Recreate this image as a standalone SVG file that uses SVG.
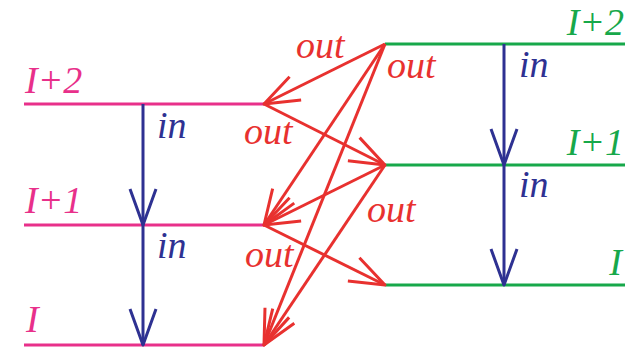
<svg xmlns="http://www.w3.org/2000/svg" width="640" height="349" viewBox="0 0 640 349">
<defs>
<style>
.lvlL{stroke:#e8308a;stroke-width:3.2;fill:none}
.lvlR{stroke:#17a84a;stroke-width:3.2;fill:none}
.blue{stroke:#2e3192;stroke-width:3;fill:none}
.red{stroke:#e8312f;stroke-width:3;fill:none}
.t{font-family:'Liberation Serif','Times New Roman',Tinos,serif;font-style:italic;font-size:38px}
.tL{fill:#e8308a}
.tR{fill:#17a84a}
.tB{fill:#2e3192}
.tO{fill:#e8312f}
</style>
<marker id="ab" markerUnits="userSpaceOnUse" markerWidth="50" markerHeight="40" viewBox="-40 -20 50 40" refX="0" refY="0" orient="auto">
<path d="M-36,-13 L0,0 L-36,13" fill="none" stroke="#2e3192" stroke-width="3" stroke-linejoin="round"/>
</marker>
<marker id="ar" markerUnits="userSpaceOnUse" markerWidth="50" markerHeight="40" viewBox="-40 -20 50 40" refX="0" refY="0" orient="auto">
<path d="M-35,-13 L0,0 L-35,13" fill="none" stroke="#e8312f" stroke-width="3" stroke-linejoin="round"/>
</marker>
</defs>
<g id="left-levels">
<g id="L2"><line class="lvlL" x1="24" y1="104" x2="264" y2="104"/><text class="t tL" x="25" y="93">I+2</text></g>
<g id="L1"><line class="lvlL" x1="24" y1="225" x2="264" y2="225"/><text class="t tL" x="25" y="213">I+1</text></g>
<g id="L0"><line class="lvlL" x1="24" y1="345" x2="264" y2="345"/><text class="t tL" x="26" y="332">I</text></g>
</g>
<g id="right-levels">
<g id="R2"><line class="lvlR" x1="385" y1="44" x2="625" y2="44"/><text class="t tR" x="624" y="35" text-anchor="end">I+2</text></g>
<g id="R1"><line class="lvlR" x1="385" y1="165" x2="625" y2="165"/><text class="t tR" x="624" y="155" text-anchor="end">I+1</text></g>
<g id="R0"><line class="lvlR" x1="385" y1="285" x2="625" y2="285"/><text class="t tR" x="622" y="275" text-anchor="end">I</text></g>
</g>
<g id="connectors">
<line class="blue" x1="143" y1="104" x2="143" y2="225" marker-end="url(#ab)"/>
<line class="blue" x1="143" y1="225" x2="143" y2="345" marker-end="url(#ab)"/>
<line class="blue" x1="504" y1="44" x2="504" y2="165" marker-end="url(#ab)"/>
<line class="blue" x1="504" y1="165" x2="504" y2="285" marker-end="url(#ab)"/>
<line class="red" x1="385" y1="44" x2="264" y2="104" marker-end="url(#ar)"/>
<line class="red" x1="385" y1="44" x2="264" y2="225" marker-end="url(#ar)"/>
<line class="red" x1="385" y1="44" x2="264" y2="345" marker-end="url(#ar)"/>
<line class="red" x1="264" y1="104" x2="385" y2="165" marker-end="url(#ar)"/>
<line class="red" x1="385" y1="165" x2="264" y2="225" marker-end="url(#ar)"/>
<line class="red" x1="385" y1="165" x2="264" y2="345" marker-end="url(#ar)"/>
<line class="red" x1="264" y1="225" x2="385" y2="285" marker-end="url(#ar)"/>
<text class="t tB" x="157" y="138">in</text>
<text class="t tB" x="157" y="258">in</text>
<text class="t tB" x="519" y="77">in</text>
<text class="t tB" x="519" y="197">in</text>
<text class="t tO" x="296" y="58">out</text>
<text class="t tO" x="387" y="78">out</text>
<text class="t tO" x="244" y="144">out</text>
<text class="t tO" x="367" y="222">out</text>
<text class="t tO" x="245" y="267">out</text>
</g>
</svg>
